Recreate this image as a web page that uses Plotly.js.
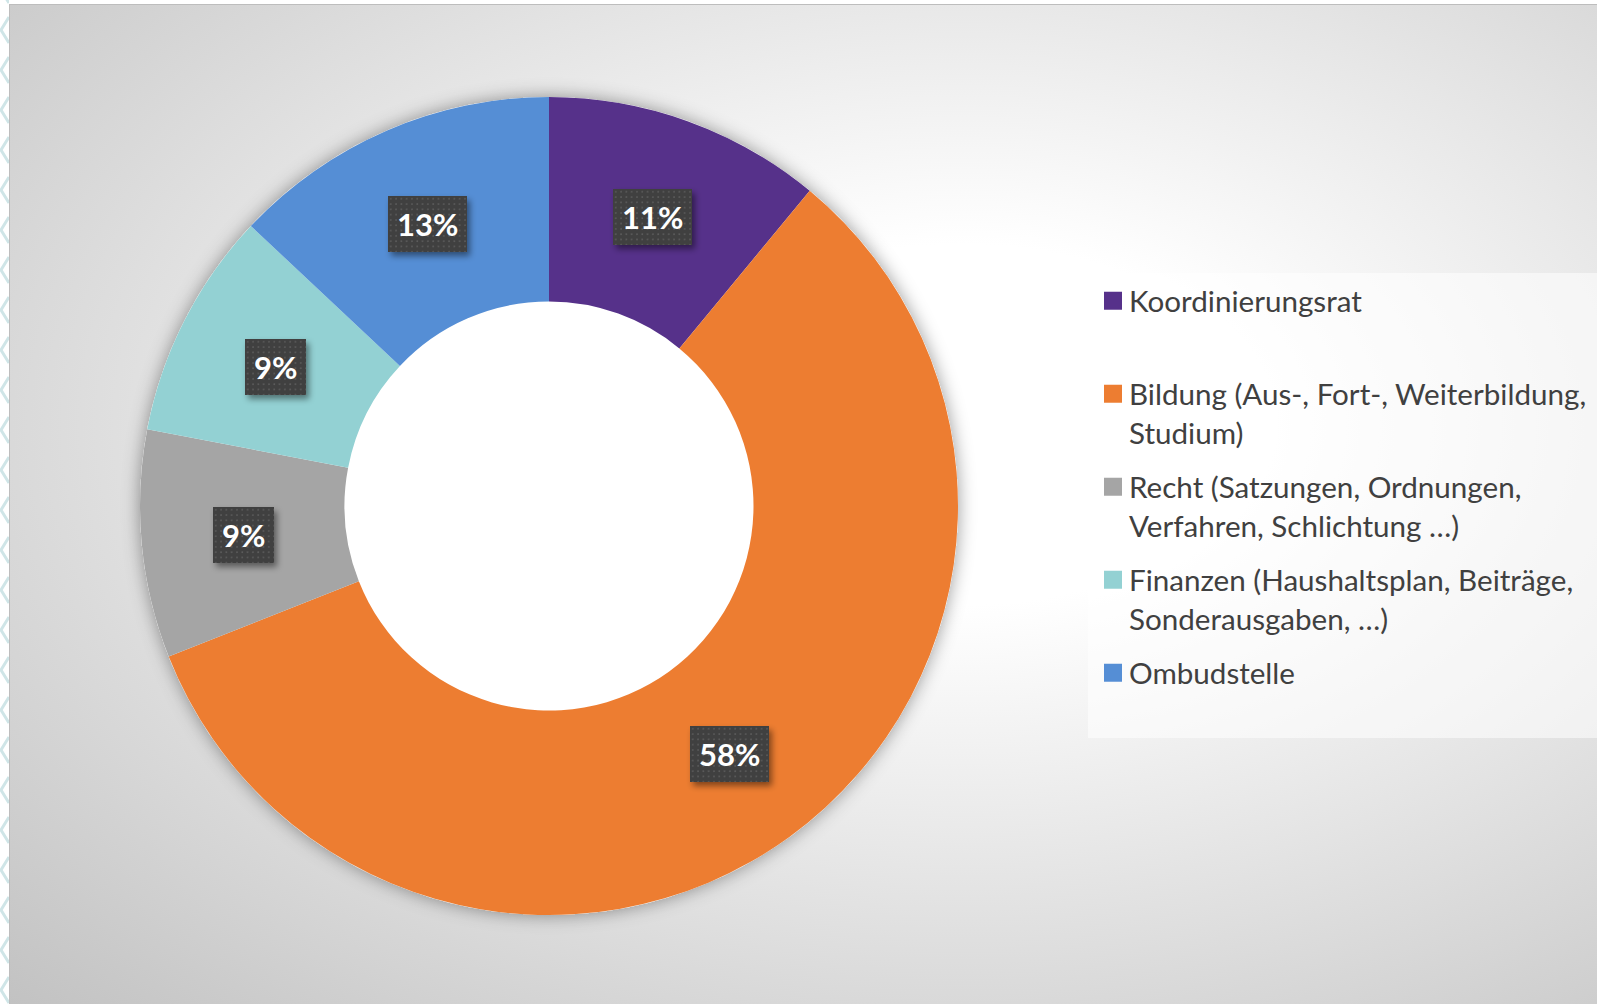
<!DOCTYPE html>
<html><head><meta charset="utf-8">
<script src="https://cdn.plot.ly/plotly-3.0.1.min.js"></script>
<style>
html,body{margin:0;padding:0;background:#fff;width:1597px;height:1004px;overflow:hidden;}
#bg{position:absolute;left:9px;top:4px;width:1588px;height:1000px;border-left:1px solid #bdbdbd;border-top:1px solid #bdbdbd;box-sizing:border-box;
background:radial-gradient(ellipse farthest-corner at 60% 42%, #ffffff 0%, #ffffff 22%, #c2c2c2 100%);}
#chart{position:absolute;left:0;top:0;width:1597px;height:1004px;}
#deco{position:absolute;left:0;top:0;}
</style></head>
<body>
<svg id="deco" width="9" height="1004"></svg>
<div id="bg"></div>
<div id="chart"></div>
<svg width="0" height="0" style="position:absolute">
  <defs>
    <pattern id="dots" patternUnits="userSpaceOnUse" width="5.3" height="5.3">
      <rect x="0" y="0" width="5.3" height="5.3" fill="#404040"></rect>
      <rect x="2" y="2" width="1.6" height="1.6" fill="#5c5c5c"></rect>
    </pattern>
    <filter id="boxshadow" x="-30%" y="-30%" width="170%" height="180%">
      <feDropShadow dx="3" dy="4" stdDeviation="3" flood-color="#000" flood-opacity="0.45"></feDropShadow>
    </filter>
    <filter id="ringshadow" x="-20%" y="-20%" width="140%" height="140%">
      <feDropShadow dx="0" dy="0" stdDeviation="9" flood-color="#000" flood-opacity="0.4"></feDropShadow>
    </filter>
  </defs>
</svg>
<script>
// ---- data ----
var categories = [
  "Koordinierungsrat",
  "Bildung (Aus-, Fort-, Weiterbildung,",
  "Recht (Satzungen, Ordnungen,",
  "Finanzen (Haushaltsplan, Beiträge,",
  "Ombudstelle"
];
var categoryLine2 = [" ", "Studium)", "Verfahren, Schlichtung …)", "Sonderausgaben, …)", " "];
var shares = [11, 58, 9, 9, 13];
var percentLabels = ["11%", "58%", "9%", "9%", "13%"];
var sliceColors = ["#56318a", "#ed7d31", "#a5a5a5", "#93d1d3", "#558ed5"];

// decorative chevrons on the left strip
(function(){
  var s = document.getElementById('deco'), h = '';
  for (var y = -10; y < 1010; y += 40) {
    h += '<polyline points="9,' + (y-13) + ' 1,' + y + ' 9,' + (y+13) + '" fill="none" stroke="#cfe5e7" stroke-width="3"/>';
  }
  s.innerHTML = h;
})();

var W = 1597, H = 1004;
var dom = {x: [140/W, 958/W], y: [89/H, 907/H]};
var hole = 0.5;

var legendLabels = categories.map(function(c, i){ return c + '<br>' + categoryLine2[i]; });

var underlay = {
  type: 'pie', values: [1], labels: ['_'], domain: dom, sort: false,
  marker: {colors: ['#ffffff'], line: {width: 0}}, textinfo: 'none', hoverinfo: 'skip',
  showlegend: false
};
var donut = {
  type: 'pie', values: shares, labels: legendLabels, domain: dom, hole: hole,
  sort: false, direction: 'clockwise', rotation: 0,
  marker: {colors: sliceColors, line: {width: 0}},
  textinfo: 'none', hoverinfo: 'label+percent'
};

// label boxes placed at the middle of the ring, angle from the data
var Rpx = (dom.x[1] - dom.x[0]) * W / 2;
var rmid = Rpx * (1 + hole) / 2;
var cx = (dom.x[0] + dom.x[1]) / 2, cy = (dom.y[0] + dom.y[1]) / 2;
var total = shares.reduce(function(a, b){ return a + b; }, 0);
var cum = 0, annotations = [];
shares.forEach(function(v, i){
  var th = 2 * Math.PI * (cum + v / 2) / total;
  cum += v;
  annotations.push({
    xref: 'paper', yref: 'paper',
    x: cx + rmid * Math.sin(th) / W,
    y: cy + rmid * Math.cos(th) / H,
    xanchor: 'center', yanchor: 'middle',
    text: '<b>' + percentLabels[i] + '</b>', showarrow: false,
    font: {family: 'Lato, sans-serif', size: 31, color: '#ffffff'},
    bgcolor: '#404040', borderpad: 9, borderwidth: 0
  });
});

var layout = {
  width: W, height: H, margin: {l: 0, r: 0, t: 0, b: 0},
  paper_bgcolor: 'rgba(0,0,0,0)', plot_bgcolor: 'rgba(0,0,0,0)',
  font: {family: 'Lato, sans-serif', color: '#404040'},
  showlegend: true,
  legend: {
    x: 1089/W, y: 1 - 275/H, xanchor: 'left', yanchor: 'top',
    bgcolor: 'rgba(0,0,0,0)', borderwidth: 0, valign: 'top',
    font: {family: 'Lato, sans-serif', size: 29.6, color: '#404040'},
    traceorder: 'normal'
  },
  shapes: [{
    type: 'rect', xref: 'paper', yref: 'paper', layer: 'below',
    x0: 1088/W, x1: 1, y0: 1 - 738/H, y1: 1 - 273/H,
    fillcolor: 'rgba(255,255,255,0.55)', line: {width: 0}
  }],
  annotations: annotations
};

Plotly.newPlot('chart', [underlay, donut], layout, {displayModeBar: false}).then(function(gd){
  var traces = gd.querySelectorAll('.pielayer .trace');
  if (traces[0]) traces[0].setAttribute('filter', 'url(#ringshadow)');
  gd.querySelectorAll('.annotation .bg').forEach(function(r){
    r.style.fill = 'url(#dots)';
    r.setAttribute('filter', 'url(#boxshadow)');
  });
  gd.querySelectorAll('.legend .legendpoints path').forEach(function(p){
    p.setAttribute('d', 'M13,9H-5V-9H13Z');
  });
  // Excel spaces legend entries evenly (two text lines each + gap)
  gd.querySelectorAll('.legend .scrollbox').forEach(function(s){ s.removeAttribute('clip-path'); });
  var items = gd.querySelectorAll('.legend .traces');
  var step = 93, y0 = null;
  items.forEach(function(it, i){
    var m = /translate\(\s*([-\d.]+)[ ,]+([-\d.]+)/.exec(it.getAttribute('transform') || '');
    if (!m) return;
    if (y0 === null) y0 = parseFloat(m[2]);
    it.setAttribute('transform', 'translate(' + m[1] + ',' + (y0 + i * step) + ')');
  });
});
</script>
</body></html>
